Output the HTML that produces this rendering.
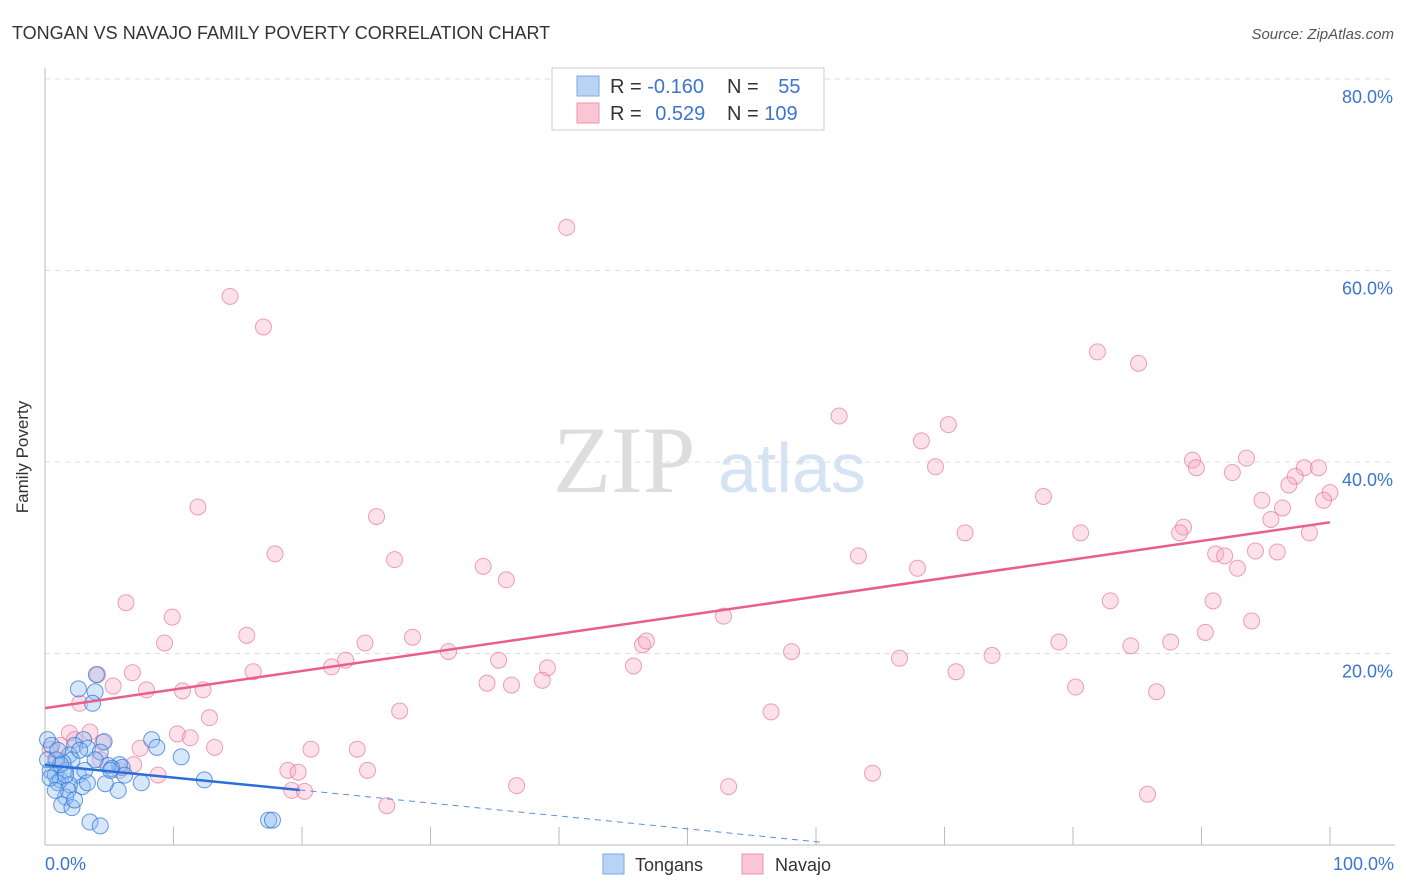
<!DOCTYPE html>
<html><head><meta charset="utf-8"><style>
body{margin:0;background:#fff;font-family:"Liberation Sans",sans-serif;}
svg{display:block}
</style></head><body>
<svg id="chart" width="1406" height="892" viewBox="0 0 1406 892">
<text x="12" y="39" font-size="18" fill="#333">TONGAN VS NAVAJO FAMILY POVERTY CORRELATION CHART</text>
<text x="1394" y="39" font-size="15" fill="#555" font-style="italic" text-anchor="end">Source: ZipAtlas.com</text>
<text x="28" y="457" font-size="17" fill="#333" transform="rotate(-90 28 457)" text-anchor="middle">Family Poverty</text>
<text x="553" y="492" font-size="95" fill="#ddd" font-family="Liberation Serif,serif">ZIP</text>
<text x="718" y="492" font-size="70" fill="#d5e3f5">atlas</text>
<g id="grid"></g>
<g id="axes"></g>
<g id="pts"></g>
<g id="lines"></g>
<g>
<rect x="552" y="68" width="272" height="62" fill="#fff" stroke="#ccc"/>
<rect x="577" y="76" width="22" height="20" fill="#b9d3f5" stroke="#7aa8e6"/>
<rect x="577" y="103" width="22" height="20" fill="#fbc6d4" stroke="#ee93ad"/>
<text x="610" y="93" font-size="20" fill="#333">R = <tspan fill="#3a75d0">-0.160</tspan></text>
<text x="727" y="93" font-size="20" fill="#333">N = <tspan fill="#3a75d0" dx="14">55</tspan></text>
<text x="610" y="120" font-size="20" fill="#333">R = <tspan fill="#3a75d0" dx="8">0.529</tspan></text>
<text x="727" y="120" font-size="20" fill="#333">N = <tspan fill="#3a75d0">109</tspan></text>
</g>
<g>
<rect x="603" y="854" width="21" height="20" fill="#b9d3f5" stroke="#7aa8e6"/>
<text x="635" y="871" font-size="18" fill="#333">Tongans</text>
<rect x="742" y="854" width="21" height="20" fill="#fbc6d4" stroke="#ee93ad"/>
<text x="775" y="871" font-size="18" fill="#333">Navajo</text>
</g>
</svg>
<script>
const yTicks=[20,40,60,80];
const yTickLabels=["20.0%","40.0%","60.0%","80.0%"];
const blueX=[2.6,3.9,4.0,3.7,3.0,2.3,3.3,4.6,1.9,0.4,0.8,1.2,1.6,2.1,2.6,2.9,1.9,1.0,1.6,1.3,2.1,3.5,4.3,5.8,5.7,6.0,4.9,5.2,4.7,7.5,8.3,8.7,10.6,12.4,17.4,17.7,0.2,0.5,0.9,1.4,2.7,4.3,5.1,6.2,1.8,2.3,3.1,3.9,0.4,0.8,1.2,1.6,3.3,0.2,1.0];
const blueY=[16.3,16.0,17.8,14.8,11.0,10.4,10.1,10.8,9.4,7.8,7.3,6.8,7.8,8.9,7.3,6.1,6.3,6.5,5.0,4.2,3.9,2.4,2.0,8.4,5.7,8.1,8.3,8.0,6.4,6.5,11.0,10.2,9.2,6.8,2.6,2.6,11.0,10.4,8.9,8.6,9.9,9.7,7.8,7.3,5.7,4.7,7.8,8.9,7.0,5.7,8.4,7.3,6.5,8.9,9.9];
const pinkX=[40.6,14.4,17.0,11.9,81.9,85.1,61.8,70.3,68.2,69.3,77.7,89.3,89.6,93.5,92.4,98.0,99.1,97.3,96.8,94.7,96.3,95.4,100,99.5,98.4,88.6,88.3,80.6,71.6,25.8,17.9,27.2,34.1,35.9,63.3,67.9,91.1,91.8,94.2,95.9,92.8,6.3,9.9,9.3,15.7,24.9,28.6,31.4,35.3,39.1,46.5,46.8,45.8,52.8,58.1,66.5,70.9,73.7,78.9,82.9,84.5,87.6,90.3,90.9,93.9,80.2,86.5,85.8,22.3,23.4,34.4,36.3,38.7,16.2,6.8,7.9,10.7,12.3,5.3,4.1,2.7,12.8,1.9,3.5,10.3,11.3,13.2,4.5,1.2,2.3,0.4,6.9,8.8,18.9,19.7,20.7,24.3,25.1,26.6,36.7,53.2,56.5,27.6,64.4,19.2,20.2,7.4,5.8,4.3,0.8];
const pinkY=[64.5,57.3,54.1,35.3,51.5,50.3,44.8,43.9,42.2,39.5,36.4,40.2,39.4,40.4,38.9,39.4,39.4,38.5,37.6,36.0,35.2,34.0,36.8,36.0,32.6,33.2,32.6,32.6,32.6,34.3,30.4,29.8,29.1,27.7,30.2,28.9,30.4,30.2,30.7,30.6,28.9,25.3,23.8,21.1,21.9,21.1,21.7,20.2,19.3,18.5,20.9,21.3,18.7,23.9,20.2,19.5,18.1,19.8,21.2,25.5,20.8,21.2,22.2,25.5,23.4,16.5,16.0,5.3,18.6,19.3,16.9,16.7,17.2,18.1,18.0,16.2,16.1,16.2,16.6,17.8,14.8,13.3,11.7,11.8,11.6,11.2,10.2,10.7,10.4,11.0,10.0,8.4,7.3,7.8,7.6,10.0,10.0,7.8,4.1,6.2,6.1,13.9,14.0,7.5,5.7,5.6,10.1,7.8,8.9,8.9];
const pinkTrend=[14.3,33.7];
const blueTrend=[8.36,5.75,0.3];
const blueTrendX=[0,19.8,60.3];
const NS="http://www.w3.org/2000/svg";
const X=v=>45+v*12.85, Y=v=>845-v*9.575;
function mk(tag,attrs,parent){const e=document.createElementNS(NS,tag);for(const k in attrs)e.setAttribute(k,attrs[k]);document.getElementById(parent).appendChild(e);return e;}
yTicks.forEach((t,i)=>{
 const g=mk('line',{x1:45,x2:1395,y1:Y(t),y2:Y(t),stroke:'#ddd','stroke-dasharray':'5,5'},'grid');
 
 
 const l=mk('text',{x:1393,y:Y(t)+24,'font-size':18,fill:'#3a75d0','text-anchor':'end'},'axes');
 l.textContent=yTickLabels[i];
 
 
});
const ax=mk('line',{x1:45,x2:45,y1:68,y2:845,stroke:'#bbb'},'axes');


const bx=mk('line',{x1:45,x2:1395,y1:845,y2:845,stroke:'#bbb'},'axes');


for(let i=0;i<=10;i++){const t=mk('line',{x1:X(i*10),x2:X(i*10),y1:827,y2:845,stroke:'#bbb'},'axes');
 
 }
[[0,"0.0%","start",45],[100,"100.0%","end",1394]].forEach(a=>{const t=mk('text',{x:a[3],y:870,'font-size':18,fill:'#3a75d0','text-anchor':a[2]},'axes');t.textContent=a[1];
 
 });
pinkX.forEach((x,i)=>{const c=mk('circle',{cx:X(x),cy:Y(pinkY[i]),r:8,fill:'rgba(248,170,195,0.35)',stroke:'rgba(232,120,155,0.7)','stroke-width':1},'pts');
 
 });
blueX.forEach((x,i)=>{const c=mk('circle',{cx:X(x),cy:Y(blueY[i]),r:8,fill:'rgba(140,185,240,0.35)',stroke:'rgba(50,120,215,0.75)','stroke-width':1},'pts');
 
 });
const pl=mk('line',{x1:X(0),y1:Y(pinkTrend[0]),x2:X(100),y2:Y(pinkTrend[1]),stroke:'#e8608a','stroke-width':2.5},'lines');


const bl=mk('line',{x1:X(blueTrendX[0]),y1:Y(blueTrend[0]),x2:X(blueTrendX[1]),y2:Y(blueTrend[1]),stroke:'#2a6fd6','stroke-width':2.5},'lines');


const bd=mk('line',{x1:X(blueTrendX[1]),y1:Y(blueTrend[1]),x2:X(blueTrendX[2]),y2:Y(blueTrend[2]),stroke:'#5a8fdc','stroke-width':1,'stroke-dasharray':'6,5'},'lines');


</script>
</body></html>
